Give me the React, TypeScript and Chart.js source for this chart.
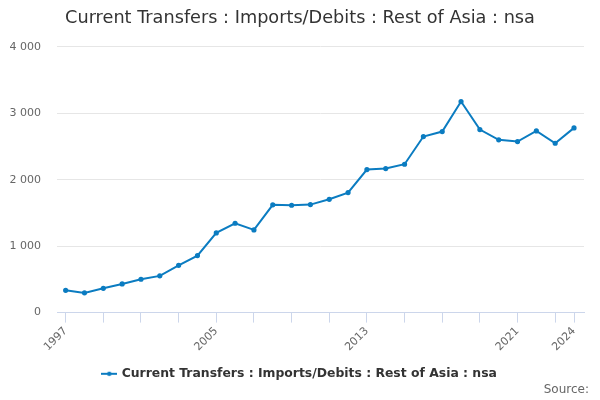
import React, { useEffect, useRef } from "react";
import { Chart, registerables } from "chart.js";

Chart.register(...registerables);

const years: number[] = [
  1997, 1998, 1999, 2000, 2001, 2002, 2003, 2004, 2005, 2006, 2007, 2008, 2009, 2010,
  2011, 2012, 2013, 2014, 2015, 2016, 2017, 2018, 2019, 2020, 2021, 2022, 2023, 2024,
];
const values: number[] = [
  336, 297, 366, 432, 502, 553, 712, 858, 1200, 1345, 1245, 1622, 1616, 1626,
  1706, 1807, 2154, 2169, 2234, 2651, 2726, 3178, 2756, 2601, 2575, 2736, 2550, 2781,
];
const labelledYears: number[] = [1997, 2005, 2013, 2021, 2024];
const tickYears: number[] = [1997, 1999, 2001, 2003, 2005, 2007, 2009, 2011, 2013, 2015, 2017, 2019, 2021, 2023, 2024];
const yTicks: number[] = [0, 1000, 2000, 3000, 4000];
const seriesName = "Current Transfers : Imports/Debits : Rest of Asia : nsa";
const titleText = "Current Transfers : Imports/Debits : Rest of Asia : nsa";
const sourceText = "Source:";

const LINE = "#0b7cc1";
const FONT = "'DejaVu Sans', sans-serif";

function fmt(v: number): string {
  return String(Math.round(v)).replace(/\B(?=(\d{3})+(?!\d))/g, " ");
}

function legendIcon(): HTMLCanvasElement {
  const c = document.createElement("canvas");
  c.width = 16;
  c.height = 8;
  const g = c.getContext("2d")!;
  g.strokeStyle = LINE;
  g.lineWidth = 2;
  g.beginPath();
  g.moveTo(0, 4);
  g.lineTo(16, 4);
  g.stroke();
  g.fillStyle = LINE;
  g.beginPath();
  g.arc(8, 4, 2.2, 0, Math.PI * 2);
  g.fill();
  return c;
}

const sourcePlugin = {
  id: "sourceText",
  afterDraw(chart: any) {
    const ctx = chart.ctx;
    ctx.save();
    ctx.font = `12px ${FONT}`;
    ctx.fillStyle = "#666666";
    ctx.textAlign = "right";
    ctx.textBaseline = "middle";
    ctx.fillText(sourceText, 589, 390);
    ctx.restore();
  },
};

export default function App() {
  const ref = useRef<HTMLCanvasElement | null>(null);

  useEffect(() => {
    document.body.style.margin = "0";
    if (!ref.current) return;
    const icon = legendIcon();
    const chart = new Chart(ref.current, {
      type: "line",
      data: {
        datasets: [
          {
            label: seriesName,
            data: years.map((y, i) => ({ x: y, y: values[i] })),
            borderColor: LINE,
            backgroundColor: LINE,
            borderWidth: 2,
            pointRadius: 1.6,
            pointHoverRadius: 3,
            tension: 0,
          },
        ],
      },
      options: {
        animation: false,
        responsive: false,
        maintainAspectRatio: false,
        layout: { padding: { left: 0, right: 0, top: 0, bottom: 10 } },
        plugins: {
          title: {
            display: true,
            text: titleText,
            color: "#333333",
            font: { family: FONT, size: 17.7, weight: "normal" },
            padding: { top: 8, bottom: 17.7 },
          },
          legend: {
            position: "bottom",
            labels: {
              color: "#333333",
              font: { family: FONT, size: 12.4, weight: "bold" },
              usePointStyle: true,
              padding: 8,
              generateLabels: (ch: any) => [
                {
                  text: seriesName,
                  pointStyle: icon,
                  fillStyle: LINE,
                  strokeStyle: LINE,
                  lineWidth: 0,
                  hidden: false,
                  datasetIndex: 0,
                  fontColor: "#333333",
                },
              ],
            },
          },
          tooltip: { enabled: false },
        },
        scales: {
          x: {
            type: "linear",
            min: 1996.54,
            max: 2024.53,
            afterBuildTicks: (scale: any) => {
              scale.ticks = tickYears.map((v) => ({ value: v }));
            },
            afterFit: (scale: any) => {
              scale.height = 47;
            },
            ticks: {
              autoSkip: false,
              maxRotation: 45,
              minRotation: 45,
              color: "#666666",
              font: { family: FONT, size: 11 },
              padding: 2,
              callback: (v: any) => (labelledYears.includes(Number(v)) ? String(v) : ""),
            },
            grid: {
              drawOnChartArea: false,
              drawTicks: true,
              tickLength: 10,
              color: "#ccd6eb",
              lineWidth: 1,
            },
            border: { display: true, color: "#ccd6eb", width: 1 },
          },
          y: {
            min: 0,
            max: 4000,
            afterBuildTicks: (scale: any) => {
              scale.ticks = yTicks.map((v) => ({ value: v }));
            },
            afterFit: (scale: any) => {
              scale.width = 57;
            },
            ticks: {
              color: "#666666",
              font: { family: FONT, size: 11 },
              padding: 16,
              callback: (v: any) => fmt(Number(v)),
            },
            grid: { color: "#e6e6e6", drawTicks: false, lineWidth: 1 },
            border: { display: false },
          },
          yRight: {
            position: "right",
            min: 0,
            max: 4000,
            afterFit: (scale: any) => {
              scale.width = 16;
            },
            ticks: { display: false },
            grid: { display: false },
            border: { display: false },
          },
        },
      },
      plugins: [sourcePlugin],
    });
    return () => chart.destroy();
  }, []);

  return (
    <div style={{ width: 600, height: 400 }}>
      <canvas ref={ref} width={600} height={400} style={{ width: 600, height: 400, display: "block" }} />
    </div>
  );
}
